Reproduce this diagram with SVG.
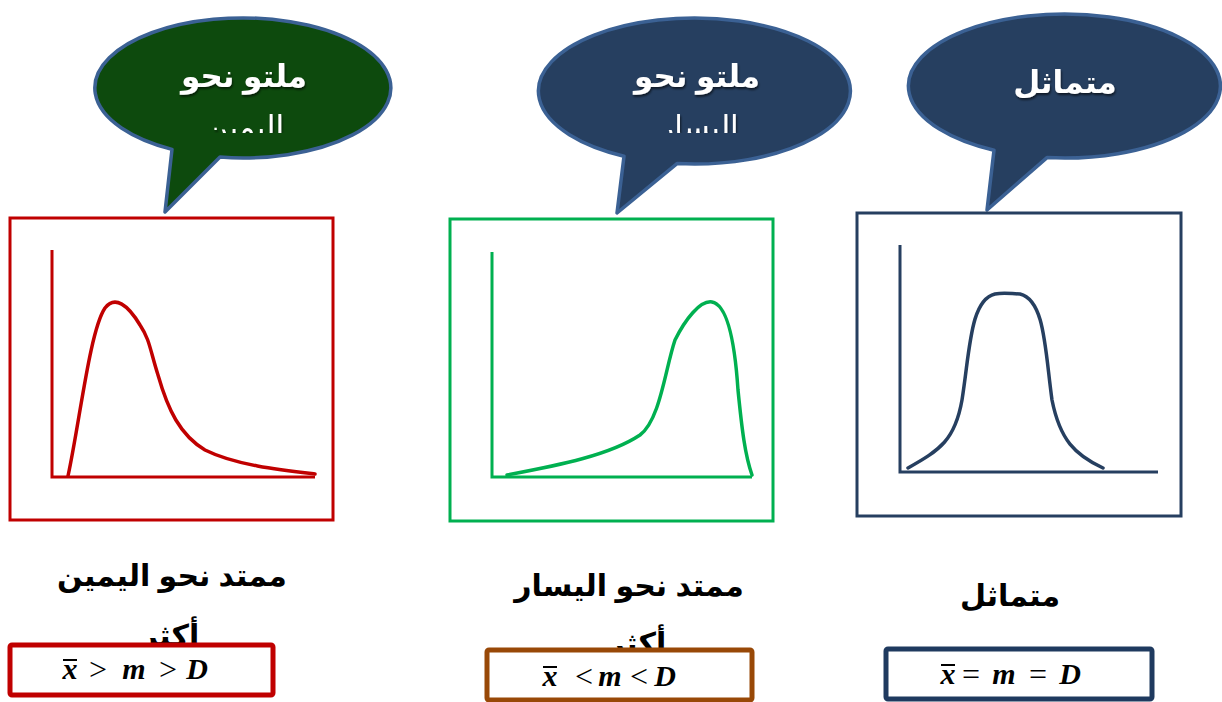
<svg xmlns="http://www.w3.org/2000/svg" width="1222" height="702" viewBox="0 0 1222 702">
<style>
.bub{stroke:#3b6194;stroke-width:3.5;stroke-linejoin:round}
.btxt{font-family:"Liberation Sans","DejaVu Sans",sans-serif;font-weight:bold;font-size:31px;fill:#ffffff;text-anchor:middle}
.box{fill:none;stroke-width:3}
.ax{fill:none;stroke-width:3}
.crv{fill:none;stroke-width:3.5;stroke-linecap:round}
.lbl{font-family:"Liberation Sans","DejaVu Sans",sans-serif;font-weight:bold;font-size:30px;fill:#000;text-anchor:middle}
.fbox{fill:#fff;stroke-width:5}
.ftxt{font-family:"Liberation Serif","DejaVu Serif",serif;font-weight:bold;font-style:italic;font-size:30px;fill:#000;text-anchor:middle}
.op{font-family:"Liberation Serif","DejaVu Serif",serif;font-size:32px;fill:#000;text-anchor:middle}
.ovl{stroke:#000;stroke-width:2}
</style>
<defs>
<clipPath id="c1"><rect x="90" y="0" width="320" height="133"/></clipPath>
<clipPath id="c2"><rect x="530" y="0" width="330" height="133"/></clipPath>
<filter id="sh" x="-10%" y="-10%" width="120%" height="130%"><feDropShadow dx="1" dy="2" stdDeviation="1" flood-color="#000" flood-opacity="0.6"/></filter>
</defs>

<g id="bubble-right-skew">
<path class="bub" fill="#0d4a0d" d="M172,149.4 A148,70 0 1 1 220,157.1 L165,212 Z"/>
<g clip-path="url(#c1)" filter="url(#sh)">
<text class="btxt" x="244" y="87">ملتو نحو</text>
<text class="btxt" x="245" y="138" style="font-weight:normal">اليمين</text>
</g>
</g>

<g id="bubble-left-skew">
<path class="bub" fill="#263f60" d="M624,156.2 A156,73 0 1 1 677,163.6 L617,213 Z"/>
<g clip-path="url(#c2)" filter="url(#sh)">
<text class="btxt" x="697" y="87">ملتو نحو</text>
<text class="btxt" x="699" y="138" style="font-weight:normal">اليسار</text>
</g>
</g>

<g id="bubble-symmetric">
<path class="bub" fill="#263f60" d="M994,150.3 A156,72 0 1 1 1047,157.6 L987,210 Z"/>
<text class="btxt" x="1065" y="93" filter="url(#sh)">متماثل</text>
</g>

<g id="chart-right-skew">
<rect class="box" x="10" y="218" width="323" height="302" stroke="#c00000"/>
<path class="ax" stroke="#c00000" d="M52,250 V477 H315"/>
<path class="crv" stroke="#c00000" d="M68,476 C80,420 90,330 105,308 C115,295 128,305 140,325 C150,340 150,350 158,375 C168,410 180,435 205,450 C235,465 280,470 315,474"/>
</g>

<g id="chart-left-skew">
<rect class="box" x="450" y="219" width="323" height="302" stroke="#00b050"/>
<path class="ax" stroke="#00b050" d="M492,252 V477 H752"/>
<path class="crv" stroke="#00b050" d="M507,475 C560,465 610,455 640,435 C660,420 665,370 675,340 C685,320 700,300 712,302 C728,305 735,345 738,390 C742,430 745,455 752,475"/>
</g>

<g id="chart-symmetric">
<rect class="box" x="857" y="213" width="324" height="303" stroke="#263f60"/>
<path class="ax" stroke="#263f60" d="M900,245 V472 H1158"/>
<path class="crv" stroke="#263f60" d="M908,468 C940,450 955,440 962,400 C970,350 970,300 995,294 C1005,292 1012,294 1020,294 C1045,300 1045,350 1052,400 C1060,440 1075,455 1103,468"/>
</g>

<g id="label-right-skew">
<text class="lbl" x="172" y="586">ممتد نحو اليمين</text>
<text class="lbl" x="170" y="646">أكثر</text>
<rect class="fbox" x="10" y="645" width="263" height="50" rx="2" stroke="#c00000"/>
<text class="ftxt" x="70" y="679">x</text>
<text class="op" x="98" y="680">&gt;</text>
<text class="ftxt" x="134" y="679">m</text>
<text class="op" x="168" y="680">&gt;</text>
<text class="ftxt" x="197" y="679">D</text>
<line class="ovl" x1="63" y1="660" x2="77" y2="660"/>
</g>

<g id="label-left-skew">
<text class="lbl" x="629" y="596">ممتد نحو اليسار</text>
<text class="lbl" x="637" y="654">أكثر</text>
<rect class="fbox" x="487" y="650" width="265" height="50" rx="2" stroke="#984807"/>
<text class="ftxt" x="550" y="686">x</text>
<text class="op" x="584" y="687">&lt;</text>
<text class="ftxt" x="610" y="686">m</text>
<text class="op" x="639" y="687">&lt;</text>
<text class="ftxt" x="665" y="686">D</text>
<line class="ovl" x1="543" y1="667" x2="557" y2="667"/>
</g>

<g id="label-symmetric">
<text class="lbl" x="1010" y="606">متماثل</text>
<rect class="fbox" x="886" y="649" width="266" height="50" rx="2" stroke="#1f3a5f"/>
<text class="ftxt" x="948" y="684">x</text>
<text class="op" x="971" y="685">=</text>
<text class="ftxt" x="1004" y="684">m</text>
<text class="op" x="1038" y="685">=</text>
<text class="ftxt" x="1070" y="684">D</text>
<line class="ovl" x1="941" y1="665" x2="955" y2="665"/>
</g>
</svg>
